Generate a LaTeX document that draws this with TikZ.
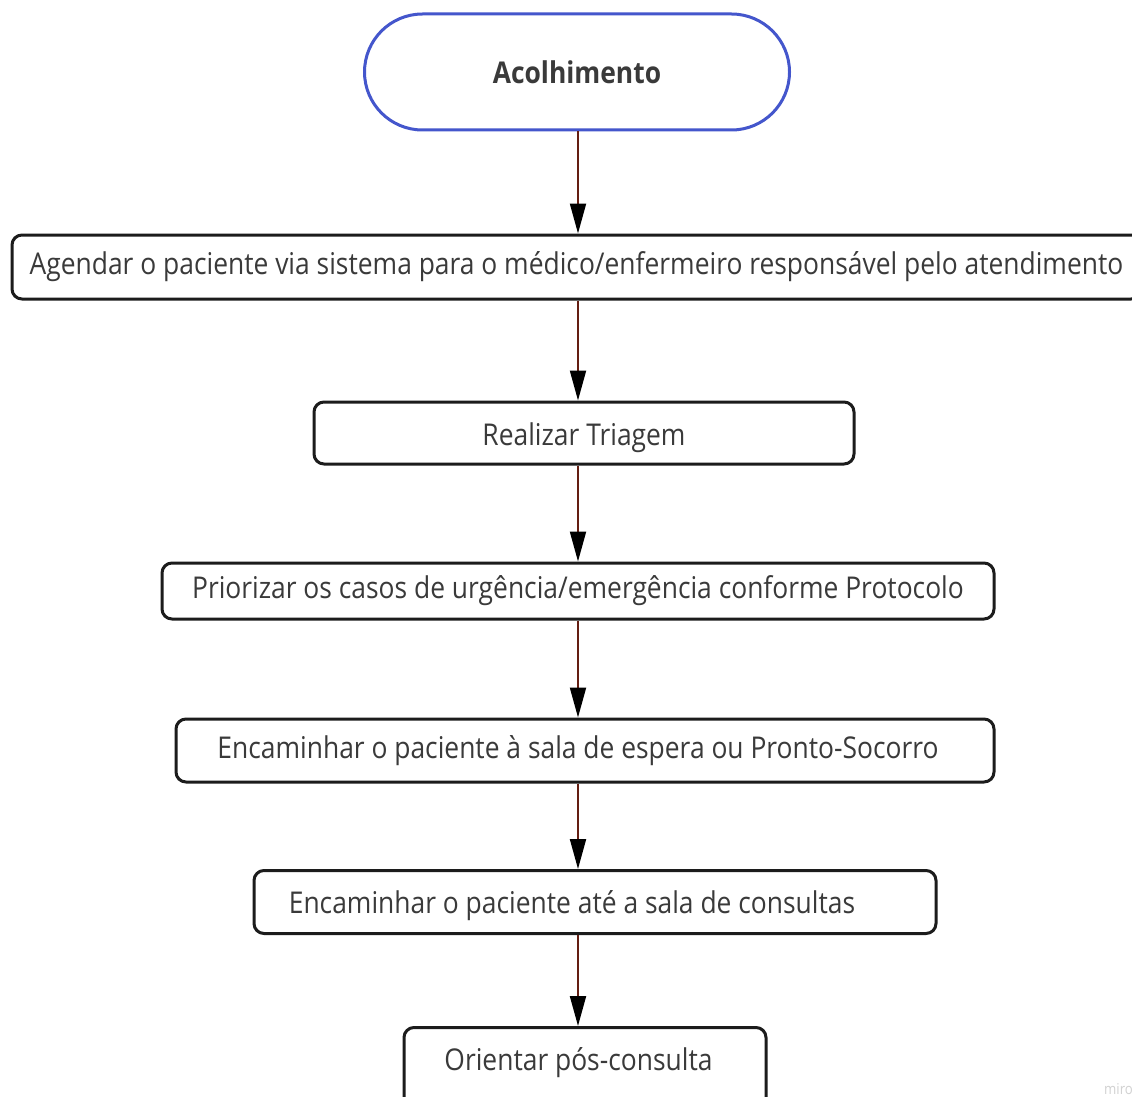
\documentclass[tikz,border=0pt]{standalone}
\usepackage{fontspec}
\setmainfont{Open Sans}[FakeStretch=0.88]
\usetikzlibrary{arrows.meta,shapes.misc}

\definecolor{txt}{RGB}{58,58,58}
\definecolor{edge}{RGB}{28,28,28}
\definecolor{startblue}{RGB}{68,86,204}
\definecolor{flow}{RGB}{100,30,18}

\begin{document}
\begin{tikzpicture}[x=1pt,y=-1pt,
  stepbox/.style={draw=edge, line width=3pt, rounded corners=10pt, fill=white,
    text=txt, font=\fontsize{30}{36}\selectfont, inner sep=0pt},
  startbox/.style={draw=startblue, line width=3pt, rounded rectangle, fill=white,
    text=txt, font=\fontsize{30}{36}\selectfont\bfseries, inner sep=0pt},
  flowarrow/.style={draw=flow, line width=2pt,
    -{Triangle[length=30pt,width=16pt,color=black,fill=black]}}
]
  \clip (0,0) rectangle (1132,1097);
  \fill[white] (0,0) rectangle (1132,1097);

  % flow steps
  \node[startbox, minimum width=425pt, minimum height=116pt] (acol) at (577,72) {Acolhimento};
  \node[stepbox, minimum width=1129pt, minimum height=64pt] (agenda) at (576.5,267)
    {Agendar o paciente via sistema para o médico/enfermeiro responsável pelo atendimento};
  \node[stepbox, minimum width=540pt, text height=43pt, text depth=19pt] (triagem) at (584,433) {Realizar Triagem};
  \node[stepbox, minimum width=832pt, minimum height=56pt] (prior) at (578,591)
    {Priorizar os casos de urgência/emergência conforme Protocolo};
  \node[stepbox, minimum width=818pt, minimum height=63pt] (espera) at (585,750.5)
    {Encaminhar o paciente à sala de espera ou Pronto-Socorro\kern14pt};
  \node[stepbox, minimum width=682pt, text height=43pt, text depth=20pt] (consulta) at (595,902)
    {Encaminhar o paciente até a sala de consultas\kern46pt};
  \node[stepbox, minimum width=362pt, text height=43pt, text depth=61pt, anchor=north] (orient) at (585,1026)
    {Orientar pós-consulta\kern13pt};

  % vertical axis of the connectors
  \coordinate (axis) at (578,0);
  \draw[flowarrow] (axis |- acol.south) -- (axis |- agenda.north);
  \draw[flowarrow] (axis |- agenda.south) -- (axis |- triagem.north);
  \draw[flowarrow] (axis |- triagem.south) -- (axis |- prior.north);
  \draw[flowarrow] (axis |- prior.south) -- (axis |- espera.north);
  \draw[flowarrow] (axis |- espera.south) -- (axis |- consulta.north);
  \draw[flowarrow] (axis |- consulta.south) -- (axis |- orient.north);

  % board watermark
  \node[anchor=base west, text=gray!35, font=\fontsize{15}{15}\selectfont, inner sep=0pt] (brand) at (1104,1094) {miro};
\end{tikzpicture}
\end{document}
